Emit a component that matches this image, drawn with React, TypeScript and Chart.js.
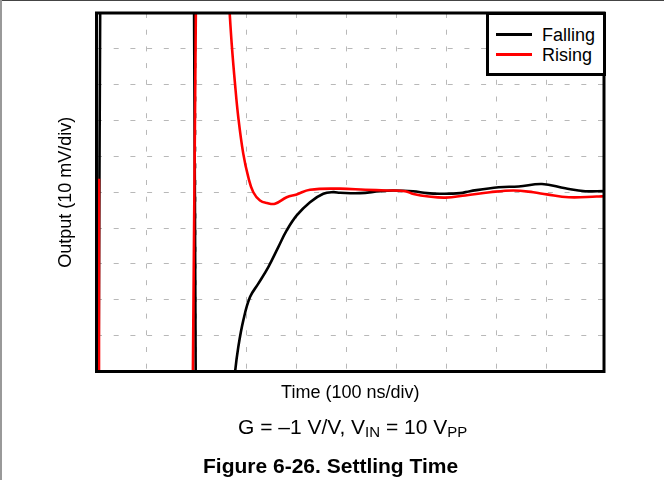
import React, { useEffect, useRef } from "react";
import { Chart, registerables } from "chart.js";

Chart.register(...registerables);

// Axes in scope divisions (x: 100 ns/div, y: 10 mV/div)
const xMax = 10.15;
const yMax = 10;

// Falling trace (null = trace off-screen / gap)
const fallingX = [
  0.075, 0.04, 1.0,
  1.95, 1.985, 2.3,
  2.755, 2.77, 2.836, 2.936, 3.07, 3.236, 3.436, 3.636, 3.804, 4.004, 4.27, 4.536,
  4.736, 4.87, 5.27, 5.67, 5.93, 6.33, 6.61, 6.87, 7.27, 7.47, 8.044, 8.444, 8.91,
  9.376, 9.776, 10.15,
];
const fallingY = [
  10.5, -0.5, null,
  10.5, -0.5, null,
  -0.4, -0.03, 0.683, 1.427, 2.076, 2.45, 2.913, 3.47, 3.935, 4.353, 4.724, 4.958,
  5.003, 4.986, 4.975, 5.03, 5.05, 5.03, 4.975, 4.96, 4.975, 5.03, 5.14, 5.16, 5.23,
  5.11, 5.03, 5.03,
];

// Rising trace
const risingX = [
  0.05, 0.05, 1.0,
  1.925, 1.99, 2.3,
  2.65, 2.704, 2.77, 2.836, 2.936, 3.036, 3.136, 3.27, 3.41, 3.57, 3.804, 4.004,
  4.27, 4.87, 5.376, 5.804, 6.176, 6.34, 6.644, 6.976, 7.376, 7.87, 8.336, 8.736,
  9.004, 9.444, 10.004, 10.15,
];
const risingY = [
  -0.5, 5.38, null,
  -0.5, 10.5, null,
  10.3, 9.14, 8.03, 7.09, 6.07, 5.42, 5.0, 4.77, 4.7, 4.68, 4.86, 4.94,
  5.07, 5.1, 5.07, 5.05, 5.03, 4.95, 4.88, 4.85, 4.91, 5.0, 5.05, 5.0,
  4.94, 4.86, 4.88, 4.89,
];

const xTitle = "Time (100 ns/div)";
const yTitle = "Output (10 mV/div)";
const legendLabels = ["Falling", "Rising"];

const FONT = "'Liberation Sans', Arial, sans-serif";

const framePlugin = {
  id: "frame",
  afterDatasetsDraw(chart: any) {
    const { ctx, chartArea: a } = chart;
    ctx.save();
    ctx.strokeStyle = "#000";
    ctx.lineWidth = 3;
    ctx.strokeRect(a.left, a.top, a.right - a.left, a.bottom - a.top);
    ctx.restore();
  },
};

export default function App() {
  const ref = useRef<HTMLCanvasElement>(null);

  useEffect(() => {
    if (!ref.current) return;
    const grid = { color: "#b8b8b8", lineWidth: 1, drawTicks: false };
    const border = { display: false, dash: [5, 11.7] };
    const chart = new Chart(ref.current, {
      type: "line",
      data: {
        datasets: [
          {
            label: legendLabels[1],
            data: risingX.map((x, i) => ({ x, y: risingY[i] })),
            borderColor: "#ff0000",
            backgroundColor: "#ff0000",
          },
          {
            label: legendLabels[0],
            data: fallingX.map((x, i) => ({ x, y: fallingY[i] })),
            borderColor: "#000000",
            backgroundColor: "#000000",
          },
        ],
      },
      options: {
        responsive: false,
        maintainAspectRatio: false,
        animation: false,
        layout: { padding: { left: 55.7, top: 13, right: 60, bottom: 76.2 } },
        plugins: { legend: { display: false }, tooltip: { enabled: false } },
        elements: {
          point: { radius: 0 },
          line: { borderWidth: 2.6, tension: 0.4, fill: false },
        },
        scales: {
          x: {
            type: "linear",
            min: 0,
            max: xMax,
            ticks: { display: false, stepSize: 1 },
            grid,
            border,
            title: {
              display: true,
              text: xTitle,
              color: "#000",
              font: { family: FONT, size: 18 },
              padding: 0,
            },
            afterFit: (s: any) => {
              s.height = 32.3;
            },
          },
          y: {
            type: "linear",
            min: 0,
            max: yMax,
            ticks: { display: false, stepSize: 1 },
            grid,
            border,
            title: {
              display: true,
              text: yTitle,
              color: "#000",
              font: { family: FONT, size: 18 },
              padding: 0,
            },
            afterFit: (s: any) => {
              s.width = 40.8;
            },
          },
        },
      },
      plugins: [framePlugin],
    } as any);
    return () => chart.destroy();
  }, []);

  const txt: React.CSSProperties = {
    position: "absolute",
    fontFamily: FONT,
    color: "#000",
    whiteSpace: "nowrap",
  };

  return (
    <div style={{ position: "absolute", left: 0, top: 0, width: 664, height: 480, background: "#fff", overflow: "hidden" }}>
      <canvas ref={ref} width={664} height={480} style={{ display: "block" }} />
      <div style={{ position: "absolute", left: 0, top: 0, width: 664, height: 1, background: "#444" }} />
      <div style={{ position: "absolute", left: 0, top: 0, width: 2, height: 480, background: "#999" }} />
      {/* legend */}
      <div
        style={{
          position: "absolute",
          left: 485.5,
          top: 11.5,
          width: 120,
          height: 64.5,
          border: "3px solid #000",
          boxSizing: "border-box",
          background: "#fff",
        }}
      />
      <div style={{ position: "absolute", left: 496, top: 32.5, width: 36, height: 3, background: "#000" }} />
      <div style={{ position: "absolute", left: 496, top: 52.5, width: 36, height: 3, background: "#ff0000" }} />
      <div style={{ ...txt, left: 542, top: 25.5, fontSize: 18, lineHeight: "18px" }}>{legendLabels[0]}</div>
      <div style={{ ...txt, left: 542, top: 45.8, fontSize: 18, lineHeight: "18px" }}>{legendLabels[1]}</div>
      {/* captions */}
      <div style={{ ...txt, left: 238, top: 415.7, fontSize: 21, lineHeight: "21px" }}>
        G = –1 V/V, V
        <span style={{ fontSize: 15, position: "relative", top: 3 }}>IN</span>
        {" "}= 10 V
        <span style={{ fontSize: 15, position: "relative", top: 3 }}>PP</span>
      </div>
      <div style={{ ...txt, left: 203, top: 454.7, fontSize: 21, lineHeight: "21px", fontWeight: "bold" }}>
        Figure 6-26. Settling Time
      </div>
    </div>
  );
}
